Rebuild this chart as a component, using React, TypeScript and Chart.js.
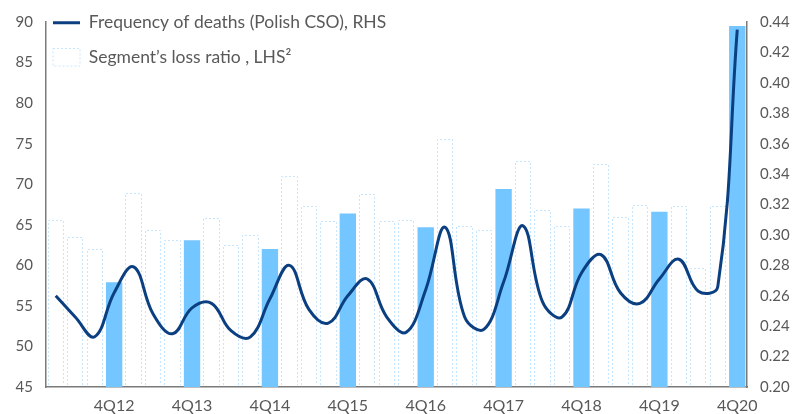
import React, { useEffect, useRef } from 'react';
import { Chart, registerables } from 'chart.js';
Chart.register(...registerables);

const categories = [
  '1Q12', '2Q12', '3Q12', '4Q12', '1Q13', '2Q13', '3Q13', '4Q13',
  '1Q14', '2Q14', '3Q14', '4Q14', '1Q15', '2Q15', '3Q15', '4Q15',
  '1Q16', '2Q16', '3Q16', '4Q16', '1Q17', '2Q17', '3Q17', '4Q17',
  '1Q18', '2Q18', '3Q18', '4Q18', '1Q19', '2Q19', '3Q19', '4Q19',
  '1Q20', '2Q20', '3Q20', '4Q20',
];

// Segment's loss ratio (LHS)
const lossRatio = [
  65.6, 63.5, 62.0, 57.9, 68.9, 64.3, 63.1, 63.1,
  65.8, 62.5, 63.8, 62.0, 71.0, 67.3, 65.5, 66.4,
  68.8, 65.5, 65.6, 64.7, 75.6, 64.9, 64.4, 69.4,
  72.9, 66.8, 64.8, 67.0, 72.5, 66.0, 67.5, 66.6,
  67.3, 59.7, 67.3, 89.5,
];

// Frequency of deaths (RHS)
const deathFreq = [
  0.260, 0.246, 0.233, 0.262, 0.279, 0.248, 0.235, 0.252,
  0.255, 0.237, 0.233, 0.258, 0.280, 0.251, 0.242, 0.260,
  0.271, 0.246, 0.236, 0.264, 0.305, 0.246, 0.238, 0.269,
  0.306, 0.256, 0.246, 0.275, 0.287, 0.262, 0.255, 0.271,
  0.284, 0.263, 0.266, 0.435,
];

const lineLabel = 'Frequency of deaths (Polish CSO), RHS';
const barLabel = 'Segment\u2019s loss ratio , LHS\u00B2';

const NAVY = '#0b3f80';
const FILL = '#73c6ff';
const DASH = '#c6e6ff';
const TEXT = '#595959';
const AXIS = '#7a7a7a';
const FONT = 'Lato';

const isFilled = (i: number) => i % 4 === 3;

const dashedBars = {
  id: 'dashedBars',
  afterLayout(chart: any) {
    if (chart.legend) {
      chart.legend.left -= 10;
      chart.legend.top -= 3;
    }
  },
  afterDatasetDraw(chart: any, args: any) {
    const ds = chart.data.datasets[args.index];
    if (ds.type !== 'bar') return;
    const ctx = chart.ctx;
    const area = chart.chartArea;
    ctx.save();
    ctx.beginPath();
    ctx.rect(area.left, area.top, area.right - area.left, area.bottom - area.top - 1);
    ctx.clip();
    ctx.strokeStyle = DASH;
    ctx.lineWidth = 1;
    ctx.setLineDash([2, 2]);
    args.meta.data.forEach((el: any, i: number) => {
      if (isFilled(i)) return;
      const { x, y, base, width } = el.getProps(['x', 'y', 'base', 'width'], true);
      const l = Math.round(x - width / 2) + 0.5;
      const r = Math.round(x + width / 2) - 0.5;
      const t = Math.round(y) + 0.5;
      const b = Math.min(base, area.bottom - 2);
      ctx.beginPath();
      ctx.moveTo(l, b);
      ctx.lineTo(l, t);
      ctx.lineTo(r, t);
      ctx.lineTo(r, b);
      ctx.stroke();
    });
    ctx.restore();
  },
};

export default function App() {
  const ref = useRef<HTMLCanvasElement | null>(null);
  useEffect(() => {
    if (!ref.current) return;
    const chart = new Chart(ref.current, {
      type: 'bar',
      data: {
        labels: categories,
        datasets: [
          {
            type: 'line',
            label: lineLabel,
            data: deathFreq,
            yAxisID: 'y1',
            borderColor: NAVY,
            borderWidth: 3,
            pointRadius: 0,
            tension: 0.4,
            fill: false,
            order: 0,
          } as any,
          {
            type: 'bar',
            label: barLabel,
            data: lossRatio,
            yAxisID: 'y',
            backgroundColor: lossRatio.map((_, i) => (isFilled(i) ? FILL : 'rgba(255,255,255,0)')),
            borderWidth: 0,
            barPercentage: 0.84,
            categoryPercentage: 1.0,
            order: 1,
          } as any,
        ],
      },
      options: {
        animation: false,
        responsive: true,
        maintainAspectRatio: false,
        layout: { padding: { top: 15, left: 0, right: 0, bottom: 0 } },
        plugins: {
          tooltip: { enabled: false },
          legend: {
            position: 'chartArea' as any,
            align: 'start',
            labels: {
              usePointStyle: true,
              pointStyleWidth: 27,
              boxHeight: 18,
              padding: 17,
              color: TEXT,
              font: { family: FONT, size: 17.5 },
              generateLabels: () => [
                {
                  text: lineLabel,
                  pointStyle: 'line',
                  strokeStyle: NAVY,
                  fillStyle: NAVY,
                  lineWidth: 3,
                  fontColor: TEXT,
                  datasetIndex: 0,
                  hidden: false,
                } as any,
                {
                  text: barLabel,
                  pointStyle: 'rect',
                  strokeStyle: DASH,
                  fillStyle: '#ffffff',
                  lineWidth: 1,
                  lineDash: [2, 2],
                  fontColor: TEXT,
                  datasetIndex: 1,
                  hidden: false,
                } as any,
              ],
            },
          },
        },
        scales: {
          x: {
            grid: { display: false, drawTicks: false },
            border: { display: true, color: AXIS, width: 1.5 },
            ticks: {
              autoSkip: false,
              maxRotation: 0,
              padding: 9,
              color: TEXT,
              font: { family: FONT, size: 16 },
              callback: (_v: any, i: number) => (isFilled(i) ? categories[i] : ''),
            },
            afterFit: (s: any) => { s.height = 27; },
          },
          y: {
            position: 'left',
            min: 45,
            max: 90,
            grid: { display: false, drawTicks: false },
            border: { display: true, color: AXIS, width: 1.5 },
            ticks: {
              stepSize: 5,
              padding: 13,
              color: TEXT,
              font: { family: FONT, size: 15 },
            },
            afterFit: (s: any) => { s.width = 46; },
          },
          y1: {
            position: 'right',
            min: 0.2,
            max: 0.44,
            grid: { display: false, drawTicks: false },
            border: { display: true, color: AXIS, width: 1.5 },
            ticks: {
              stepSize: 0.02,
              padding: 13,
              color: TEXT,
              font: { family: FONT, size: 15 },
              callback: (v: any) => Number(v).toFixed(2),
            },
            afterFit: (s: any) => { s.width = 47; },
          },
        },
      },
      plugins: [dashedBars],
    });
    return () => chart.destroy();
  }, []);
  return (
    <div style={{ position: 'fixed', left: 0, top: 0, width: 794, height: 414, background: '#fff' }}>
      <canvas ref={ref} />
    </div>
  );
}
